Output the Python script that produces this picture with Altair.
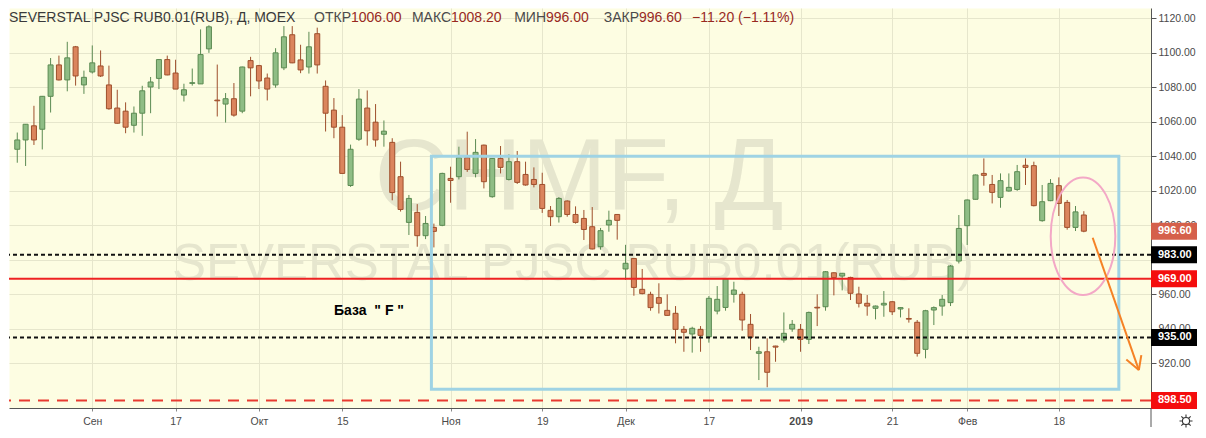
import altair as alt
import pandas as pd

# ---------------- data ----------------
opens = [
    1044.1, 1049.5, 1057.7, 1055.7, 1074.8, 1093.0, 1084.3, 1103.5, 1081.4, 1088.9,
    1092.4, 1081.4, 1068.0, 1066.2, 1058.0, 1065.0, 1080.2, 1085.2, 1096.1, 1088.3,
    1075.5, 1082.3, 1082.0, 1102.3, 1072.6, 1070.3, 1073.4, 1066.2, 1095.5, 1092.6,
    1085.4, 1081.4, 1091.3, 1110.5, 1095.9, 1091.8, 1111.1, 1080.6, 1066.8, 1056.9,
    1023.1, 1049.9, 1068.0, 1059.8, 1052.8, 1048.1, 1028.2, 1001.7, 1007.5, 994.0,
    998.8, 1000.0, 1027.2, 1028.2, 1039.2, 1030.1, 1046.5, 1016.6, 1038.8, 1026.6,
    1036.9, 1029.5, 1026.6, 1023.7, 1008.7, 1005.0, 1014.1, 1006.3, 1004.0, 999.2,
    987.6, 1000.2, 1006.3, 974.7, 980.8, 962.9, 960.0, 958.1, 950.7, 949.0,
    939.7, 937.0, 939.7, 935.4, 950.3, 952.4, 960.0, 960.0, 942.6, 925.8,
    926.7, 930.0, 933.5, 939.9, 939.7, 933.9, 952.5, 952.8, 972.5, 970.6,
    969.8, 960.2, 954.8, 951.9, 953.8, 955.7, 951.5, 946.0, 943.8, 928.1,
    950.9, 953.2, 955.2, 979.3, 999.8, 1015.1, 1030.1, 1023.7, 1016.2, 1019.9,
    1020.8, 1034.8, 1034.6, 1002.7, 1014.3, 1023.0, 1013.3, 998.8, 1006.0,
]
highs = [
    1053.8, 1058.6, 1069.3, 1075.0, 1097.0, 1098.4, 1106.4, 1104.0, 1089.7, 1104.3,
    1101.4, 1092.6, 1078.6, 1071.3, 1068.9, 1080.9, 1086.0, 1096.1, 1098.4, 1096.0,
    1082.1, 1090.9, 1113.6, 1116.0, 1093.2, 1076.7, 1082.5, 1092.0, 1097.7, 1093.0,
    1088.0, 1102.7, 1115.5, 1115.5, 1104.7, 1112.2, 1114.6, 1084.0, 1073.8, 1063.9,
    1046.8, 1079.0, 1078.2, 1070.3, 1060.8, 1050.5, 1036.9, 1017.6, 1012.3, 1005.4,
    1001.0, 1030.5, 1034.0, 1045.6, 1054.3, 1050.0, 1046.8, 1039.0, 1046.0, 1041.1,
    1043.1, 1036.9, 1033.6, 1030.5, 1011.2, 1016.4, 1014.5, 1011.0, 1008.9, 1010.6,
    998.5, 1008.5, 1006.5, 988.7, 981.0, 974.7, 961.5, 966.4, 960.0, 953.2,
    941.6, 941.2, 941.6, 959.0, 964.8, 969.2, 967.3, 961.5, 948.6, 929.6,
    934.5, 930.2, 949.5, 945.1, 942.8, 950.0, 960.0, 973.5, 972.8, 972.4,
    970.2, 964.4, 959.6, 953.5, 961.9, 956.0, 952.6, 951.9, 945.1, 951.0,
    953.0, 959.6, 977.0, 1006.0, 1015.0, 1029.5, 1038.8, 1029.2, 1030.1, 1030.1,
    1035.0, 1038.8, 1036.9, 1023.4, 1026.8, 1027.8, 1014.7, 1011.2, 1008.2,
]
lows = [
    1036.3, 1034.4, 1046.6, 1044.0, 1065.4, 1084.0, 1077.7, 1081.0, 1076.2, 1088.0,
    1086.0, 1067.0, 1059.0, 1053.4, 1053.8, 1051.9, 1065.0, 1079.0, 1087.0, 1079.0,
    1071.8, 1081.0, 1082.0, 1100.0, 1063.1, 1059.6, 1063.0, 1065.0, 1074.8, 1079.0,
    1072.4, 1079.8, 1090.0, 1094.0, 1088.2, 1088.0, 1088.0, 1054.4, 1050.5, 1030.0,
    1022.3, 1049.0, 1046.2, 1045.6, 1045.6, 1014.5, 1008.0, 994.4, 987.6, 992.0,
    987.2, 999.5, 1013.1, 1026.6, 1031.0, 1027.8, 1021.4, 1016.0, 1030.1, 1026.0,
    1024.0, 1023.0, 1022.0, 1007.2, 999.6, 1001.6, 1005.0, 1001.0, 991.5, 986.0,
    985.9, 996.3, 991.7, 968.3, 959.2, 960.0, 950.5, 948.9, 947.5, 931.6,
    926.7, 926.2, 926.7, 932.0, 948.4, 950.5, 955.2, 938.9, 927.7, 910.3,
    906.1, 920.9, 932.0, 938.3, 926.7, 931.2, 941.6, 950.5, 959.4, 962.3,
    956.7, 952.4, 947.6, 945.5, 947.0, 948.0, 946.6, 943.6, 923.9, 922.9,
    942.2, 947.6, 953.2, 977.9, 988.6, 1015.0, 1023.0, 1012.7, 1010.2, 1019.5,
    1020.0, 1023.4, 1011.0, 1002.1, 1014.0, 1005.4, 997.5, 996.7, 996.0,
]
closes = [
    1049.5, 1058.6, 1049.5, 1074.8, 1093.0, 1084.3, 1097.1, 1086.6, 1085.8, 1094.2,
    1086.6, 1067.6, 1059.2, 1056.9, 1065.0, 1078.0, 1083.1, 1096.1, 1087.2, 1079.0,
    1078.6, 1082.7, 1099.0, 1115.1, 1072.2, 1073.4, 1063.9, 1091.8, 1091.3, 1083.7,
    1079.0, 1100.0, 1109.3, 1094.2, 1090.1, 1103.5, 1093.0, 1065.0, 1056.9, 1030.1,
    1044.1, 1073.2, 1054.8, 1049.5, 1054.6, 1019.0, 1009.2, 1015.6, 994.0, 1001.1,
    996.5, 1030.1, 1026.0, 1039.2, 1032.4, 1042.3, 1025.3, 1038.8, 1033.6, 1036.9,
    1024.9, 1023.4, 1023.7, 1009.8, 1005.0, 1015.6, 1006.3, 1001.7, 997.6, 986.3,
    996.9, 1002.9, 1002.9, 978.0, 964.0, 960.4, 952.3, 954.8, 947.8, 939.7,
    938.0, 940.3, 936.2, 957.7, 957.1, 968.9, 962.5, 945.1, 935.1, 926.7,
    914.8, 929.4, 937.4, 942.6, 933.9, 949.5, 952.1, 973.1, 969.7, 972.2,
    960.6, 954.8, 953.2, 953.2, 954.8, 949.9, 952.3, 945.6, 925.8, 950.5,
    952.3, 957.1, 976.4, 998.2, 1014.7, 1029.2, 1029.0, 1019.1, 1025.9, 1022.0,
    1031.1, 1033.6, 1011.4, 1013.7, 1024.3, 1012.7, 998.8, 1007.8, 996.6,
]

# date ticks (candle index -> label)
tick_idx = [9, 19, 29, 39, 52, 63, 73, 83, 94, 105, 114, 125]
tick_txt = ["Сен", "17", "Окт", "15", "Ноя", "19", "Дек", "17", "2019", "21", "Фев", "18"]
price_ticks = [920, 940, 960, 980, 1000, 1020, 1040, 1060, 1080, 1100, 1120]

# horizontal levels
dotted_levels = [983.0, 935.0]
key_level = [969.0]
target_level = [898.5]

# annotations in data coordinates (candle index, price)
zone_x = [49.7, 132.2]
zone_y = [905.0, 1040.0]
ellipse_center = [127.9, 993.7]
arrow_x = [129.06, 134.6, 133.1, 134.9]   # start, tip, arm 1, arm 2
arrow_y = [992.8, 916.1, 922.2, 924.8]

instrument = "SEVERSTAL PJSC RUB0.01(RUB), Д, MOEX"
ticker_mark = "CHMF, Д"
long_name = "SEVERSTAL PJSC RUB0.01(RUB)"
base_label = "База\u00a0\u00a0\"\u00a0F\u00a0\""
hdr_names = ["ОТКР", "МАКС", "МИН", "ЗАКР"]

# ---------------- layout / style ----------------
W, H = 1142, 400
X_DOMAIN = [-0.393, 135.46]
Y_DOMAIN = [894.1, 1126.0]

UP_FILL, DOWN_FILL = "#8fbd85", "#db855d"
UP_LINE, DOWN_LINE = "#5b8a52", "#9e4f2c"
BG = "#fdfde2"
GRID = "#e6e6cc"
AXIS_TXT = "#4a4a4a"
WATER = "#e6e6ce"
HDR_VAL = "#98291f"
FONT = "Liberation Sans"

candles = pd.DataFrame({
    "i": list(range(len(opens))),
    "open": opens, "high": highs, "low": lows, "close": closes,
})
candles["dir"] = ["up" if c >= o else "down" for o, c in zip(opens, closes)]

xsc = alt.Scale(domain=X_DOMAIN, nice=False, zero=False)
ysc = alt.Scale(domain=Y_DOMAIN, nice=False, zero=False)

label_expr = " : ".join(f"datum.value == {i} ? '{t}'" for i, t in zip(tick_idx, tick_txt)) + " : ''"
bold_idx = tick_idx[tick_txt.index("2019")]

x_axis = alt.Axis(
    values=tick_idx, labelExpr=label_expr, grid=True, gridColor=GRID,
    domainColor="#555555", tickColor="#888888", tickSize=3, labelPadding=5,
    labelFont=FONT, labelFontSize=10.5, labelColor=AXIS_TXT,
    labelFontWeight={"condition": {"test": f"datum.value == {bold_idx}", "value": "bold"}, "value": "normal"},
    labelOverlap=False, labelFlush=False, title=None,
)
y_axis = alt.Axis(
    orient="right", values=price_ticks, format=".2f", grid=True, gridColor=GRID,
    domainColor="#555555", tickColor="#555555", tickSize=5, labelPadding=2,
    labelFont=FONT, labelFontSize=10.5, labelColor=AXIS_TXT,
    labelOverlap=False, title=None,
)


def X(field):
    return alt.X(field, scale=xsc, axis=x_axis, title=None)


def Y(field):
    return alt.Y(field, scale=ysc, axis=y_axis, title=None)


dir_stroke = alt.Stroke("dir:N", scale=alt.Scale(domain=["up", "down"], range=[UP_LINE, DOWN_LINE]), legend=None)
dir_fill = alt.Fill("dir:N", scale=alt.Scale(domain=["up", "down"], range=[UP_FILL, DOWN_FILL]), legend=None)


def text_layer(txt, x, y, **kw):
    return alt.Chart(pd.DataFrame({"t": [txt]})).mark_text(**kw).encode(
        x=alt.value(x), y=alt.value(y), text="t:N")


# watermarks
wm1 = text_layer(ticker_mark, 570, 202, font=FONT, fontSize=102,
                 align="center", baseline="alphabetic", color=WATER)
wm2 = text_layer(long_name, 564, 272, font=FONT, fontSize=51,
                 align="center", baseline="alphabetic", color=WATER)

# candles
wicks = alt.Chart(candles).mark_rule(strokeWidth=1).encode(
    x=X("i:Q"), y=Y("low:Q"), y2="high:Q", stroke=dir_stroke,
)
bodies = alt.Chart(candles).mark_bar(size=5, strokeWidth=1).encode(
    x=X("i:Q"), y=Y("open:Q"), y2="close:Q", fill=dir_fill, stroke=dir_stroke,
)

# zone rectangle
zone = alt.Chart(pd.DataFrame({"x": [zone_x[0]], "x2": [zone_x[1]], "y": [zone_y[0]], "y2": [zone_y[1]]})).mark_rect(
    filled=False, color="#9fd3e4", strokeWidth=3, opacity=1
).encode(x=X("x:Q"), x2="x2:Q", y=Y("y:Q"), y2="y2:Q")

# levels
dotted = alt.Chart(pd.DataFrame({"v": dotted_levels})).mark_rule(
    color="#111111", strokeWidth=2, strokeDash=[4, 3]).encode(y=Y("v:Q"))
key = alt.Chart(pd.DataFrame({"v": key_level})).mark_rule(
    color="#ee2222", strokeWidth=2).encode(y=Y("v:Q"))
target = alt.Chart(pd.DataFrame({"v": target_level})).mark_rule(
    color="#e83a30", strokeWidth=2, strokeDash=[11, 8]).encode(y=Y("v:Q"))

# ellipse
ELLIPSE = ("M 1 0 C 1 1.005 0.552 1.82 0 1.82 C -0.552 1.82 -1 1.005 -1 0 "
           "C -1 -1.005 -0.552 -1.82 0 -1.82 C 0.552 -1.82 1 -1.005 1 0 Z")
ellipse = alt.Chart(pd.DataFrame({"x": [ellipse_center[0]], "y": [ellipse_center[1]]})).mark_point(
    shape=ELLIPSE, size=4173, filled=False, color="#f3a8c6", strokeWidth=2, opacity=1
).encode(x=X("x:Q"), y=Y("y:Q"))

# arrow
seg = pd.DataFrame({
    "x": [arrow_x[0], arrow_x[1], arrow_x[1]],
    "y": [arrow_y[0], arrow_y[1], arrow_y[1]],
    "x2": [arrow_x[1], arrow_x[2], arrow_x[3]],
    "y2": [arrow_y[1], arrow_y[2], arrow_y[3]],
})
arrow = alt.Chart(seg).mark_rule(color="#f58226", strokeWidth=2).encode(
    x=X("x:Q"), y=Y("y:Q"), x2="x2:Q", y2="y2:Q")

# price boxes on the right scale
BOX = "M -1 -0.37 L 1 -0.37 L 1 0.37 L -1 0.37 Z"


def box_layer(vals, col):
    return alt.Chart(pd.DataFrame({"v": vals})).mark_point(
        shape=BOX, size=2116, filled=True, color=col, opacity=1, strokeWidth=0
    ).encode(x=alt.value(W + 23), y=Y("v:Q"))


last_price = [closes[-1]]
boxes = [
    box_layer(last_price, "#d5604b"),
    box_layer(dotted_levels, "#000000"),
    box_layer(key_level + target_level, "#f40d0d"),
]
box_text = alt.Chart(pd.DataFrame({"v": last_price + dotted_levels + key_level + target_level})).mark_text(
    align="left", baseline="middle", color="white", font=FONT, fontSize=11, fontWeight="bold"
).encode(x=alt.value(W + 7), y=Y("v:Q"), text=alt.Text("v:Q", format=".2f"))

# header
chg = closes[-1] - closes[-2]
pct = chg / closes[-2] * 100
hdr_vals = [f"{opens[-1]:.2f}", f"{highs[-1]:.2f}", f"{lows[-1]:.2f}", f"{closes[-1]:.2f}"]
chg_txt = f"{chg:.2f} ({pct:.2f}%)".replace("-", "\u2212")
val_x = [342, 442, 537, 630]
header = [text_layer(instrument, 0, 10, font=FONT, fontSize=14, align="left", baseline="middle", color="#3a3a3a")]
for n, v, vx in zip(hdr_names, hdr_vals, val_x):
    header.append(text_layer(n, vx, 10, font=FONT, fontSize=14, align="right", baseline="middle", color="#4a4a4a"))
    header.append(text_layer(v, vx, 10, font=FONT, fontSize=14, align="left", baseline="middle", color=HDR_VAL))
header.append(text_layer(chg_txt, 683, 10, font=FONT, fontSize=14, align="left", baseline="middle", color=HDR_VAL))

base_txt = text_layer(base_label, 325, 303, font=FONT, fontSize=14, fontWeight="bold",
                      align="left", baseline="middle", color="#000000")

# settings icon (sun-like gear) in the bottom-right corner + axis separator
GEAR = ("M 0.55 0 C 0.55 0.304 0.304 0.55 0 0.55 C -0.304 0.55 -0.55 0.304 -0.55 0 "
        "C -0.55 -0.304 -0.304 -0.55 0 -0.55 C 0.304 -0.55 0.55 -0.304 0.55 0 Z "
        "M 0.6 0 L 1 0 M -0.6 0 L -1 0 M 0 0.6 L 0 1 M 0 -0.6 L 0 -1 "
        "M 0.42 0.42 L 0.71 0.71 M -0.42 0.42 L -0.71 0.71 "
        "M 0.42 -0.42 L 0.71 -0.71 M -0.42 -0.42 L -0.71 -0.71")
icon = alt.Chart(pd.DataFrame({"t": ["settings"]})).mark_point(
    shape=GEAR, size=169, filled=False, color="#333333", strokeWidth=1.1, opacity=1
).encode(x=alt.value(W + 35), y=alt.value(413))
separator = alt.Chart(pd.DataFrame({"t": ["sep"]})).mark_rule(color="#555555", strokeWidth=1).encode(
    x=alt.value(W), y=alt.value(H), y2=alt.value(H + 19))

chart = alt.layer(
    wm1, wm2, wicks, bodies, zone, dotted, key, target, ellipse, arrow,
    *boxes, box_text, *header, base_txt, icon, separator,
).properties(width=W, height=H, background="white", padding=0).configure_view(fill=BG, stroke="transparent")

chart.save("out.html", embed_options={"renderer": "svg", "actions": False})
